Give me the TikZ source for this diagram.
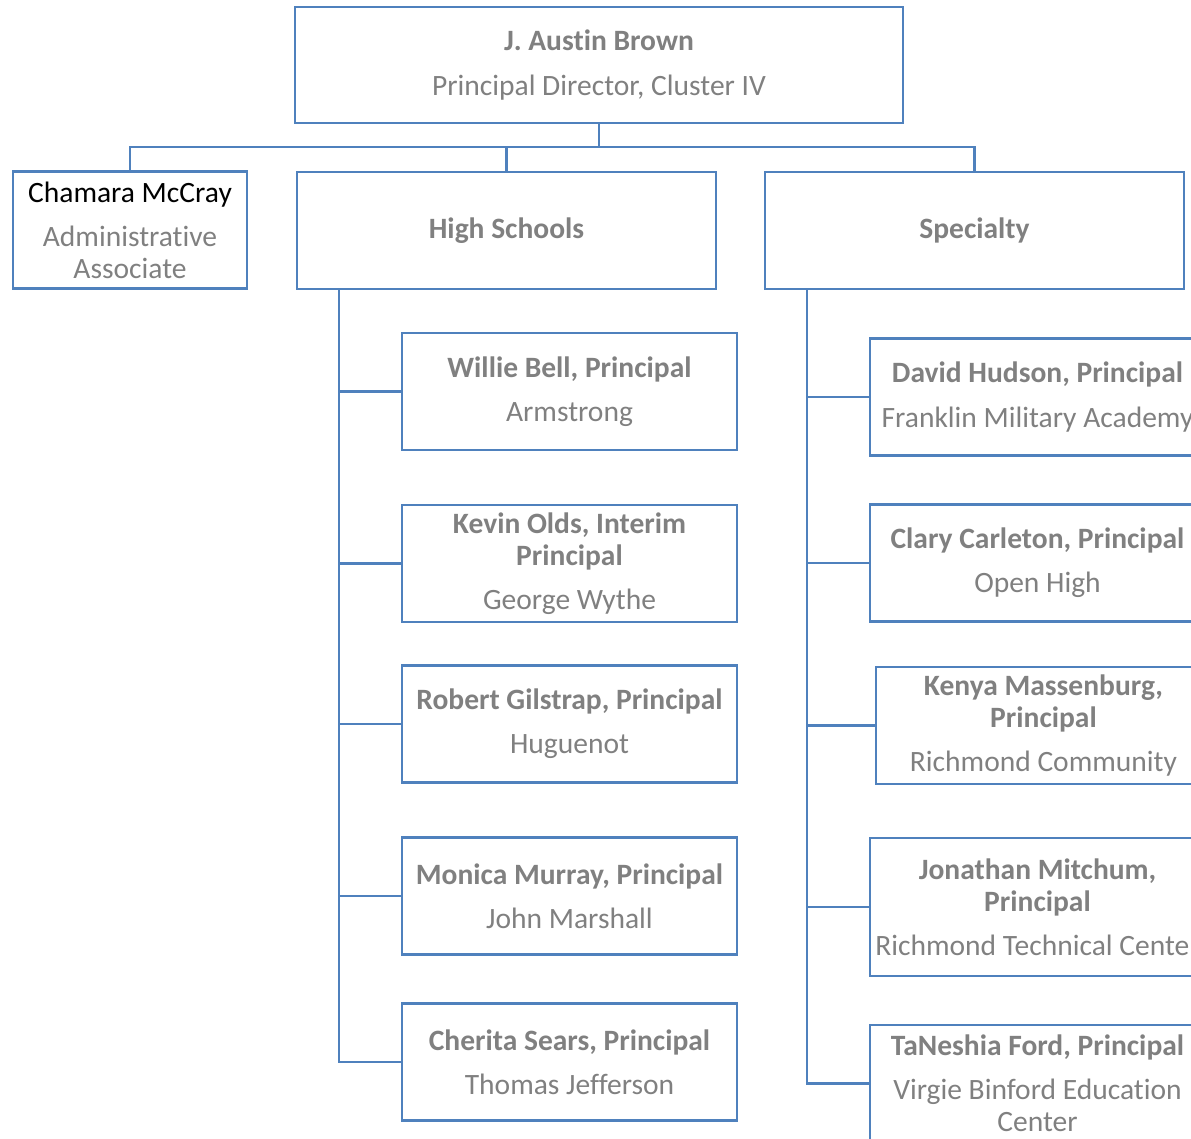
\documentclass[tikz,border=0pt]{standalone}
\usepackage{fontspec}
\setmainfont{Carlito}[Ligatures=NoCommon]
\usetikzlibrary{positioning}
\definecolor{orgblue}{HTML}{4F81BD}
\definecolor{orggray}{HTML}{808080}
\tikzset{
    box/.style={draw=orgblue, line width=1.6pt, text=orggray, align=center, inner sep=0pt,
        outer sep=0pt, font=\fontsize{16.8}{18.2}\selectfont}, % every box of the chart
    head/.style={box, minimum width=8.38cm, minimum height=2.34cm}, % second level
    school/.style={box, minimum width=6.7cm, minimum height=2.34cm}, % one school
    link/.style={draw=orgblue, line width=1.6pt} % connectors
}

\begin{document}
\begin{tikzpicture}[x=0.02cm, y=-0.02cm]
    \def\W{1191} \def\H{1139}
    \useasboundingbox (0,0) rectangle (\W,\H);
    \clip (0,0) rectangle (\W,\H);

    % top of the chart
    \node[box, minimum width=12.16cm, minimum height=2.32cm] (director) at (599,65)
        {\textbf{J. Austin Brown}\\[7pt]Principal Director, Cluster IV};

    \node[box, minimum width=4.68cm, minimum height=2.34cm] (assoc) at (130,230)
        {\textcolor{black}{Chamara McCray}\\[7pt]Administrative\\Associate};
    \node[head] (high) at (506.5,230.5) {\textbf{High Schools}};
    \node[head] (special) at (974.5,230.5) {\textbf{Specialty}};

    % high schools
    \node[school] (bell) at (569.5,391.5) {\textbf{Willie Bell, Principal}\\[7pt]Armstrong};
    \node[school] (olds) at (569.5,563.5) {\textbf{Kevin Olds, Interim}\\\textbf{Principal}\\[7pt]George Wythe};
    \node[school] (gilstrap) at (569.5,724) {\textbf{Robert Gilstrap, Principal}\\[7pt]Huguenot};
    \node[school] (murray) at (569.5,896) {\textbf{Monica Murray, Principal}\\[7pt]John Marshall};
    \node[school] (sears) at (569.5,1062) {\textbf{Cherita Sears, Principal}\\[7pt]Thomas Jefferson};

    % specialty schools
    \node[school] (hudson) at (1037.5,397) {\textbf{David Hudson, Principal}\\[7pt]Franklin Military Academy};
    \node[school] (carleton) at (1037.5,563) {\textbf{Clary Carleton, Principal}\\[7pt]Open High};
    \node[school] (massenburg) at (1043.5,725.5) {\textbf{Kenya Massenburg,}\\\textbf{Principal}\\[7pt]Richmond Community};
    \node[school, minimum height=2.76cm] (mitchum) at (1037.5,907) {\textbf{Jonathan Mitchum,}\\\textbf{Principal}\\[7pt]Richmond Technical Center};
    \node[school] (ford) at (1037.5,1083.5) {\textbf{TaNeshia Ford, Principal}\\[7pt]Virgie Binford Education\\Center};

    % connectors
    \coordinate (bus) at (599,147);
    \draw[link] (director.south) -- (bus);
    \draw[link] (bus) -| (assoc.north);
    \draw[link] (bus) -| (high.north);
    \draw[link] (bus) -| (special.north);

    \coordinate (hstrunk) at ([xshift=0.84cm]high.south west);
    \coordinate (sptrunk) at ([xshift=0.84cm]special.south west);
    \foreach \s in {bell,olds,gilstrap,murray,sears} {\draw[link] (hstrunk) |- (\s.west);}
    \foreach \s in {hudson,carleton,massenburg,mitchum,ford} {\draw[link] (sptrunk) |- (\s.west);}
\end{tikzpicture}
\end{document}
